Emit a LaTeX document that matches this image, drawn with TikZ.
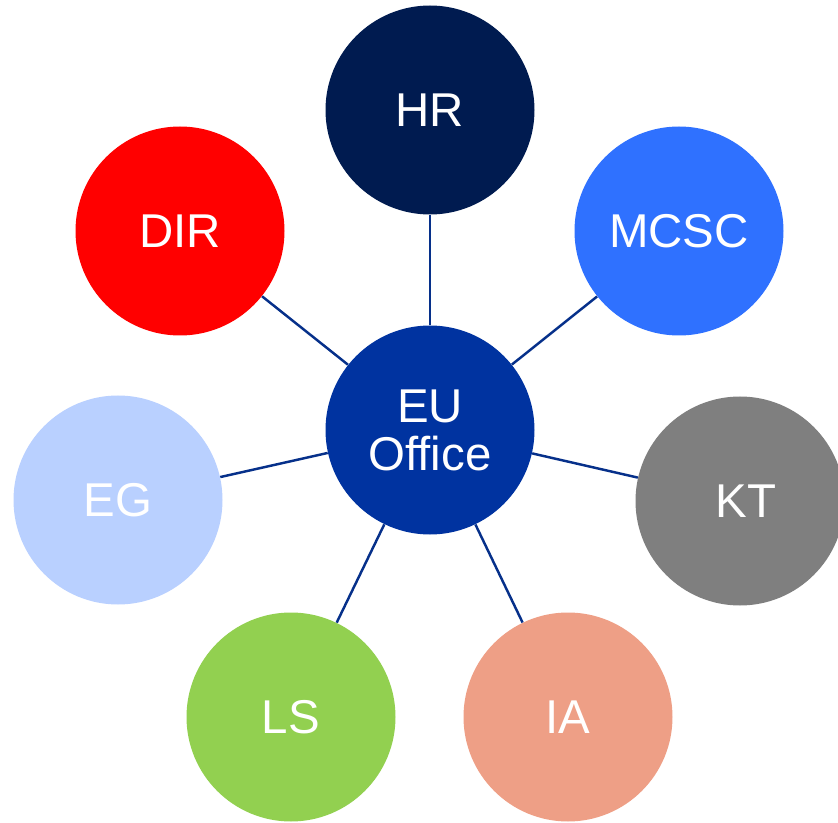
\documentclass[tikz,border=0pt]{standalone}
\usepackage{fontspec}
\setmainfont{Liberation Sans}
\definecolor{hrblue}{HTML}{001B50}
\definecolor{eublue}{HTML}{0033A0}
\definecolor{mcscblue}{HTML}{2F71FF}
\definecolor{egblue}{HTML}{B9D0FF}
\definecolor{ktgray}{HTML}{7F7F7F}
\definecolor{lsgreen}{HTML}{92D050}
\definecolor{iasalmon}{HTML}{EE9F86}
\definecolor{linkblue}{HTML}{06308A}

\begin{document}
\begin{tikzpicture}[
  unit/.style={circle, minimum size=4.18cm, inner sep=0pt, text=white,
    font={\fontsize{27}{27.3}\selectfont}, align=center},
  link/.style={draw=linkblue, line width=1.4pt}]
\useasboundingbox (0,0) rectangle (16.76,16.44);
\node [unit, fill=eublue] (eu) at (8.6,7.84) {EU\\Office};
\node [unit, fill=hrblue] (hr) at (8.6,14.24) {HR};
\node [unit, fill=red] (dir) at (3.6,11.82) {DIR};
\node [unit, fill=mcscblue] (mcsc) at (13.58,11.82) {MCSC};
\node [unit, fill=egblue] (eg) at (2.36,6.44) {EG};
\node [unit, fill=ktgray] (kt) at (14.8,6.42) {\hspace{0.25cm}KT};
\node [unit, fill=lsgreen] (ls) at (5.82,2.1) {LS};
\node [unit, fill=iasalmon] (ia) at (11.36,2.1) {IA};
% spokes
\foreach \n in {hr,dir,mcsc,eg,kt,ls,ia}
  \draw [link] (eu) -- (\n);
\end{tikzpicture}
\end{document}
